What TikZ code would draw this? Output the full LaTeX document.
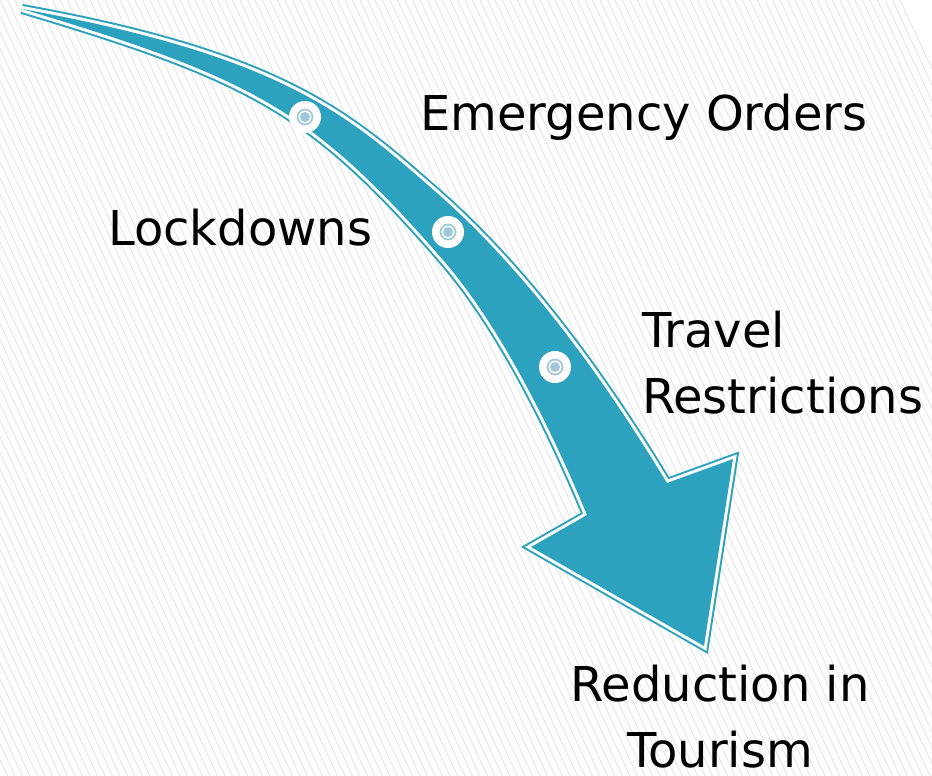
\documentclass[tikz,border=0pt]{standalone}
\usepackage{fontspec}
\setmainfont{DejaVu Sans}
\definecolor{teal1}{RGB}{44,162,190}
\definecolor{ringblue}{RGB}{160,200,218}
\definecolor{stripe}{RGB}{232,232,232}
\begin{document}
\begin{tikzpicture}[x=1pt,y=-1pt,
  lab/.style={font=\fontsize{48}{66}\selectfont, inner sep=0pt, text=black},
  dot/.style={circle, fill=white, minimum size=32pt, inner sep=0pt,
    path picture={
      \fill[ringblue] (path picture bounding box.center) circle (8.4pt);
      \fill[white] (path picture bounding box.center) circle (6.5pt);
      \fill[ringblue] (path picture bounding box.center) circle (5pt);
    }}]
\useasboundingbox (0,0) rectangle (932,776);
\fill[white] (0,0) rectangle (932,776);
\begin{scope}
  \clip (0,0) rectangle (932,776);
  \foreach \i in {-55,...,120} {
    \draw[stripe, line width=1pt] (\i*7.5,0) -- (\i*7.5+360,776);
  }
\end{scope}
% curved arrow
\path[fill=teal1,
      preaction={draw=teal1, line width=10pt, line join=miter},
      preaction={draw=white, line width=6pt, line join=miter}]
  (22,9) .. controls (282,56) and (347,114) .. (437,193)
         .. controls (519.5,265.6) and (594,363) .. (667,483)
  -- (733,459) -- (704,646) -- (531,547) -- (587,515)
         .. controls (552.4,432) and (502,328) .. (443,260)
         .. controls (311.8,109) and (252,77.9) .. (22,9)
  -- cycle;
% markers
\node[dot] (c1) at (305,117) {};
\node[dot] (c2) at (448,232) {};
\node[dot] (c3) at (555,367) {};
% labels
\node[lab, anchor=base west] (eo) at (420,130) {Emergency Orders};
\node[lab, anchor=base west] (lk) at (108,245) {Lockdowns};
\node[lab, anchor=base west, align=left] (tr) at (642,413) {Travel\\Restrictions};
\node[lab, anchor=base, align=center] (rt) at (720,767) {Reduction in\\Tourism};
\end{tikzpicture}
\end{document}
